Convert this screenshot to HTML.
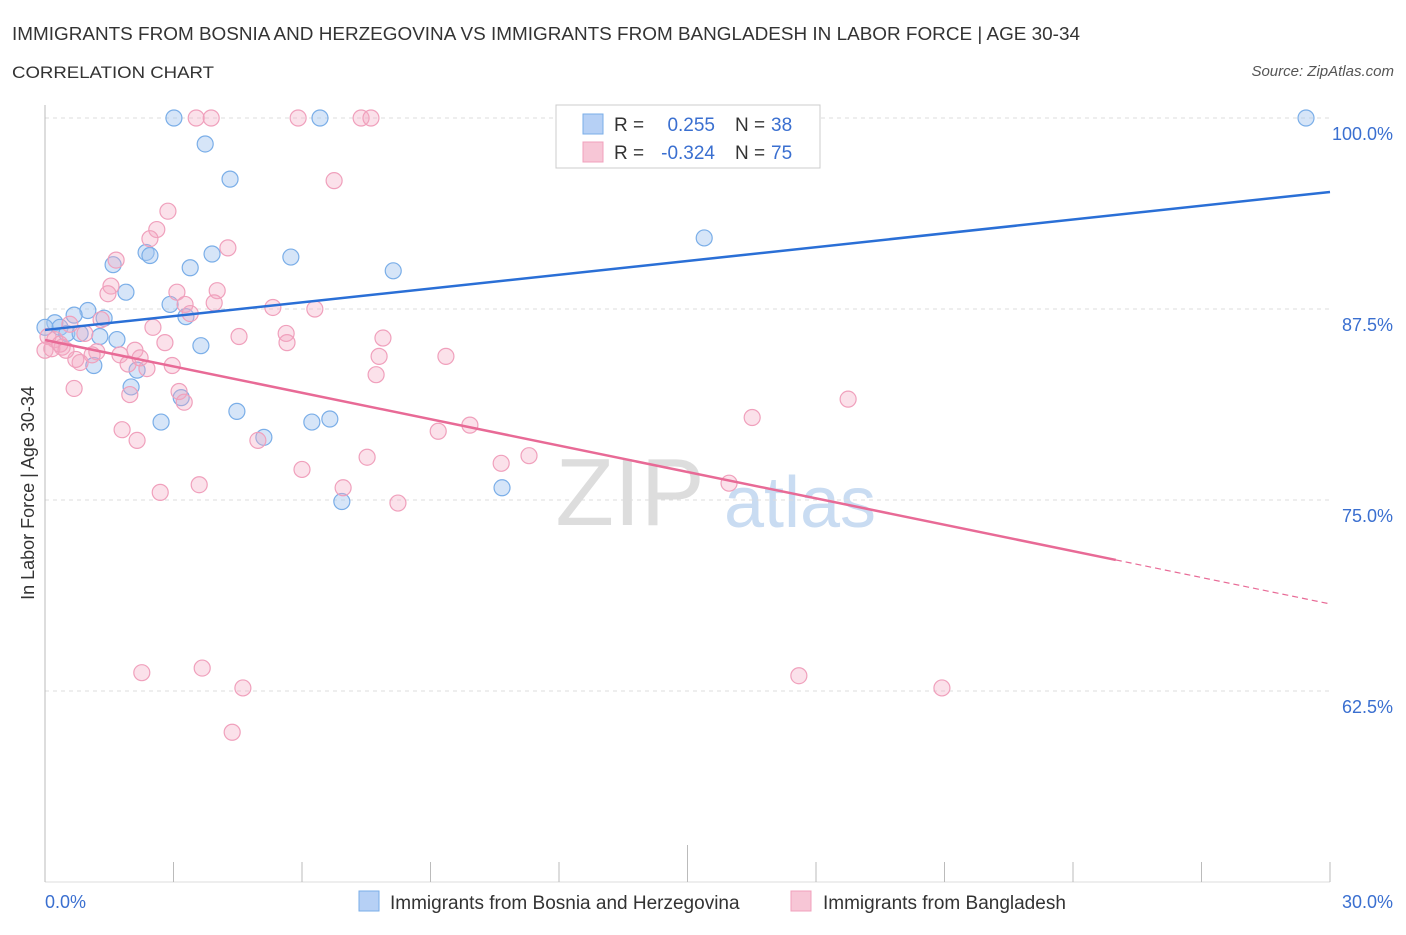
<!DOCTYPE html>
<html><head><meta charset="utf-8">
<style>
body{margin:0;background:#fff;font-family:"Liberation Sans",sans-serif;}
svg text{font-family:"Liberation Sans",sans-serif;}
</style></head>
<body>
<svg id="chart" width="1406" height="930" xmlns="http://www.w3.org/2000/svg">
<text x="12" y="40" font-size="18" fill="#333" textLength="1068" lengthAdjust="spacingAndGlyphs">IMMIGRANTS FROM BOSNIA AND HERZEGOVINA VS IMMIGRANTS FROM BANGLADESH IN LABOR FORCE | AGE 30-34</text>
<text x="12" y="78" font-size="17" fill="#333" textLength="202" lengthAdjust="spacingAndGlyphs">CORRELATION CHART</text>
<text x="1394" y="76" font-size="15" fill="#555" font-style="italic" text-anchor="end">Source: ZipAtlas.com</text>
<text x="630" y="525" font-size="96" fill="#ddd" font-family="Liberation Serif,serif" text-anchor="middle">ZIP</text>
<text x="800" y="527" font-size="72" fill="#c9dcf2" text-anchor="middle">atlas</text>
<g id="grid"></g>
<g id="marks"></g>
<text transform="translate(34,493) rotate(-90)" font-size="18" fill="#333" text-anchor="middle">In Labor Force | Age 30-34</text>
<text x="45" y="908" font-size="18" fill="#3a6fd0">0.0%</text>
<text x="1393" y="908" font-size="18" fill="#3a6fd0" text-anchor="end">30.0%</text>
<g>
<rect x="556" y="105" width="264" height="63" fill="#fff" stroke="#ccc"/>
<rect x="583" y="114" width="20" height="20" fill="#b6d0f5" stroke="#7aaee8"/>
<text x="614" y="131" font-size="19" fill="#333">R =</text>
<text x="715" y="131" font-size="19" fill="#3a6fd0" text-anchor="end">0.255</text>
<text x="735" y="131" font-size="19" fill="#333">N =</text>
<text x="771" y="131" font-size="19" fill="#3a6fd0">38</text>
<rect x="583" y="142" width="20" height="20" fill="#f7c6d6" stroke="#f0a0bc"/>
<text x="614" y="159" font-size="19" fill="#333">R =</text>
<text x="715" y="159" font-size="19" fill="#3a6fd0" text-anchor="end">-0.324</text>
<text x="735" y="159" font-size="19" fill="#333">N =</text>
<text x="771" y="159" font-size="19" fill="#3a6fd0">75</text>
</g>
<g>
<rect x="359" y="891" width="20" height="20" fill="#b6d0f5" stroke="#7aaee8"/>
<text x="390" y="909" font-size="19" fill="#333">Immigrants from Bosnia and Herzegovina</text>
<rect x="791" y="891" width="20" height="20" fill="#f7c6d6" stroke="#f0a0bc"/>
<text x="823" y="909" font-size="19" fill="#333">Immigrants from Bangladesh</text>
</g>
</svg>
<script>
const yTicks=[100,87.5,75,62.5];
const yTickLabels=["100.0%","87.5%","75.0%","62.5%"];
const xTicks=[0,3,6,9,12,15,18,21,24,27,30];
const blueX=[3.01,6.42,3.74,4.32,29.44,15.39,2.36,2.45,3.90,5.74,1.59,3.39,8.13,1.89,2.92,1.00,0.68,3.29,1.38,0.23,0.35,0,0.51,0.82,1.28,1.68,3.64,1.14,2.15,2.01,3.18,4.48,2.71,6.23,6.65,5.11,10.67,6.93];
const blueY=[100,100,98.3,96.0,100,92.15,91.2,91.0,91.1,90.9,90.4,90.2,90.0,88.6,87.8,87.4,87.1,87.0,86.9,86.6,86.3,86.3,85.9,85.9,85.7,85.5,85.1,83.8,83.5,82.4,81.7,80.8,80.1,80.1,80.3,79.1,75.8,74.9];
const pinkX=[3.53,3.88,5.91,7.38,7.61,6.75,2.87,2.61,2.45,4.27,1.66,1.54,1.47,3.08,4.02,3.27,3.95,5.32,6.30,3.39,1.31,2.52,5.63,4.53,7.89,0.07,0.23,2.80,5.65,0.40,0,0.16,1.21,2.10,1.10,1.75,0.82,0.72,7.80,9.36,1.94,2.38,2.97,7.73,0.68,1.98,3.13,3.25,18.75,16.51,9.92,1.80,9.18,2.15,4.97,7.52,11.30,10.65,6.00,6.96,3.60,2.69,8.24,15.97,2.26,3.67,17.60,4.62,20.94,4.37,0.35,0.58,0.93,2.22,0.49];
const pinkY=[100,100,100,100,100,95.9,93.9,92.7,92.1,91.5,90.7,89.0,88.5,88.6,88.7,87.8,87.9,87.6,87.5,87.2,86.8,86.3,85.9,85.7,85.6,85.7,85.5,85.3,85.3,85.0,84.8,84.9,84.7,84.8,84.5,84.5,84.0,84.2,84.4,84.4,83.9,83.6,83.8,83.2,82.3,81.9,82.1,81.4,81.6,80.4,79.9,79.6,79.5,78.9,78.9,77.8,77.9,77.4,77.0,75.8,76.0,75.5,74.8,76.1,63.7,64.0,63.5,62.7,62.7,59.8,85.2,86.5,85.9,84.3,84.8];
const blueTrend=[86.13,95.16];
const pinkTrend=[85.47,68.2];
const pinkSolidEnd=25;
const NS="http://www.w3.org/2000/svg";
const X0=45,X1=1330,Y100=118,Y50=882;
const sx=v=>X0+(v/30)*(X1-X0);
const sy=v=>Y100+(100-v)/50*(Y50-Y100);
function mk(tag,attrs,parent){const e=document.createElementNS(NS,tag);for(const k in attrs)e.setAttribute(k,attrs[k]);parent.appendChild(e);return e;}
const grid=document.getElementById('grid'),marks=document.getElementById('marks');
yTicks.forEach((t,i)=>{
  const l=mk('line',{x1:X0,x2:X1,y1:sy(t),y2:sy(t),stroke:'#ddd','stroke-dasharray':'4,4'},grid);
  
  
  const tx=mk('text',{x:1393,y:sy(t)+22,'font-size':18,fill:'#3a6fd0','text-anchor':'end'},grid);
  tx.textContent=yTickLabels[i];
  
  
});
const ax=mk('line',{x1:X0,x2:X0,y1:105,y2:Y50,stroke:'#bbb'},grid);


const bx=mk('line',{x1:X0,x2:X1,y1:Y50,y2:Y50,stroke:'#ddd'},grid);


xTicks.forEach(t=>{
  const tk=mk('line',{x1:sx(t),x2:sx(t),y1:(t===15?845:862),y2:Y50,stroke:'#bbb'},grid);
  
  
});
function pts(xs,ys,fill,stroke,name){
  xs.forEach((x,i)=>{
    const c=mk('circle',{cx:sx(x),cy:sy(ys[i]),r:8,fill:fill,stroke:stroke,'stroke-width':1.2},marks);
    
    
  });
}
pts(blueX,blueY,'rgba(164,198,240,0.45)','#7aaee8','point-bosnia');
pts(pinkX,pinkY,'rgba(244,170,195,0.35)','#f0a0bc','point-bangladesh');
const bl=mk('line',{x1:sx(0),y1:sy(blueTrend[0]),x2:sx(30),y2:sy(blueTrend[1]),stroke:'#2a6fd6','stroke-width':2.5},marks);


const pAt=x=>pinkTrend[0]+(pinkTrend[1]-pinkTrend[0])*x/30;
const pl=mk('line',{x1:sx(0),y1:sy(pinkTrend[0]),x2:sx(pinkSolidEnd),y2:sy(pAt(pinkSolidEnd)),stroke:'#e86a96','stroke-width':2.5},marks);


const pd=mk('line',{x1:sx(pinkSolidEnd),y1:sy(pAt(pinkSolidEnd)),x2:sx(30),y2:sy(pinkTrend[1]),stroke:'#e86a96','stroke-width':1.2,'stroke-dasharray':'6,4'},marks);


</script>
</body></html>
